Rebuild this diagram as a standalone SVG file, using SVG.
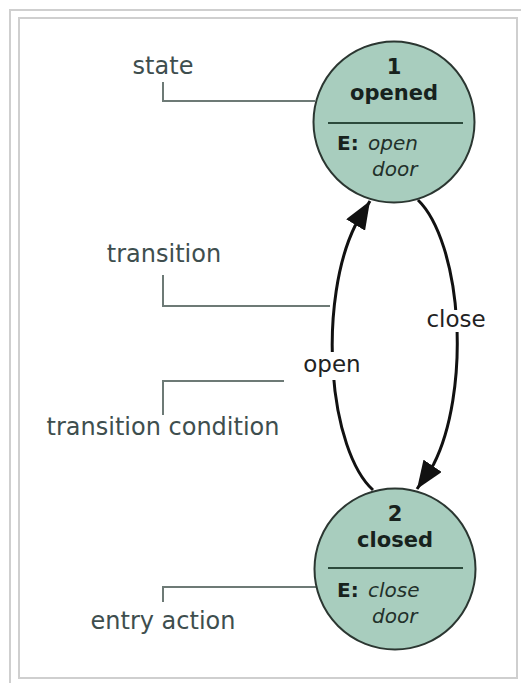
<svg xmlns="http://www.w3.org/2000/svg" width="521" height="683" viewBox="0 0 521 683">
  <style>
    .frame { fill: none; stroke: #cfcfcf; stroke-width: 2; }
    .leader { fill: none; stroke: #6d7a76; stroke-width: 2; }
    .callout { font-family: "DejaVu Sans", sans-serif; font-size: 24px; fill: #3e4e4e; text-anchor: middle; }
    .edge { fill: none; stroke: #111; stroke-width: 3; }
    .edge-label { font-family: "DejaVu Sans", sans-serif; font-size: 23px; fill: #222; text-anchor: middle; }
    .halo { fill: #fff; }
    .state-shape { fill: #a8cdbe; stroke: #2b3631; stroke-width: 2; }
    .divider { stroke: #2c4a3c; stroke-width: 2; }
    .title { font-family: "DejaVu Sans", sans-serif; font-size: 21px; font-weight: bold; fill: #17221d; text-anchor: middle; }
    .act-key { font-family: "DejaVu Sans", sans-serif; font-size: 20px; font-weight: bold; fill: #17221d; }
    .act-val { font-family: "DejaVu Sans", sans-serif; font-size: 20px; font-style: italic; fill: #22302a; }
  </style>
  <defs>
    <marker id="arrow" markerUnits="userSpaceOnUse" markerWidth="30" markerHeight="22" refX="28" refY="11" orient="auto">
      <path d="M0,0 L28,11 L0,22 z" fill="#111"/>
    </marker>
  </defs>

  <rect width="521" height="683" fill="#fff"/>

  <!-- thumbnail frame -->
  <g id="frame">
    <rect class="frame" x="10" y="10" width="530" height="700"/>
    <rect class="frame" x="19" y="18" width="498" height="660"/>
  </g>

  <!-- callout labels with their leader lines -->
  <g id="callouts">
    <g id="callout-state">
      <text class="callout" x="163" y="74">state</text>
      <polyline class="leader" points="163,82 163,101 315,101"/>
    </g>
    <g id="callout-transition">
      <text class="callout" x="164" y="262">transition</text>
      <polyline class="leader" points="163,275 163,306 330,306"/>
    </g>
    <g id="callout-condition">
      <text class="callout" x="163" y="435">transition condition</text>
      <polyline class="leader" points="163,415 163,381 284,381"/>
    </g>
    <g id="callout-entry">
      <text class="callout" x="163" y="629">entry action</text>
      <polyline class="leader" points="163,602 163,587 316,587"/>
    </g>
  </g>

  <!-- transitions -->
  <g id="connectors">
    <path id="edge-open" class="edge" d="M373,490 A62,154 0 0 1 355,226 L370,201" marker-end="url(#arrow)"/>
    <path id="edge-close" class="edge" d="M418,200 A62,154 0 0 1 433.5,464.5 L417,489" marker-end="url(#arrow)"/>
    <rect class="halo" x="300" y="352" width="64" height="28"/>
    <text class="edge-label" x="332" y="372">open</text>
    <rect class="halo" x="423" y="310" width="66" height="22"/>
    <text class="edge-label" x="456" y="327">close</text>
  </g>

  <!-- states -->
  <g id="state-opened">
    <circle class="state-shape" cx="394" cy="122" r="80.5"/>
    <text class="title" x="394" y="74">1</text>
    <text class="title" x="394" y="100">opened</text>
    <line class="divider" x1="328" y1="123" x2="463" y2="123"/>
    <text class="act-key" x="337" y="150">E:</text>
    <text class="act-val" x="368" y="150">open</text>
    <text class="act-val" x="372" y="176">door</text>
  </g>

  <g id="state-closed">
    <circle class="state-shape" cx="395" cy="569" r="80.5"/>
    <text class="title" x="395" y="521">2</text>
    <text class="title" x="395" y="547">closed</text>
    <line class="divider" x1="328" y1="568" x2="463" y2="568"/>
    <text class="act-key" x="337" y="597">E:</text>
    <text class="act-val" x="368" y="597">close</text>
    <text class="act-val" x="372" y="623">door</text>
  </g>
</svg>
